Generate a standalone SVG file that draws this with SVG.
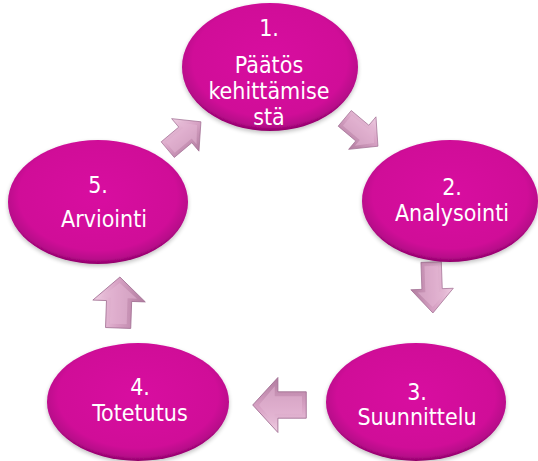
<svg xmlns="http://www.w3.org/2000/svg" width="538" height="461" viewBox="0 0 538 461">
  <defs>
    <radialGradient id="orb" cx="50%" cy="45%" r="55%">
      <stop offset="0" stop-color="#D80EA0"/>
      <stop offset="0.8" stop-color="#D00B98"/>
      <stop offset="0.93" stop-color="#B8088A"/>
      <stop offset="1" stop-color="#8E0468"/>
    </radialGradient>
    <linearGradient id="arrowFill" x1="0" y1="0" x2="0" y2="1">
      <stop offset="0" stop-color="#EFCDE2"/>
      <stop offset="0.45" stop-color="#D8A3C5"/>
      <stop offset="1" stop-color="#B17C9F"/>
    </linearGradient>
    <filter id="soft" x="-10%" y="-10%" width="120%" height="130%">
      <feGaussianBlur in="SourceAlpha" stdDeviation="2"/>
      <feOffset dy="2"/>
      <feComponentTransfer><feFuncA type="linear" slope="0.25"/></feComponentTransfer>
      <feMerge><feMergeNode/><feMergeNode in="SourceGraphic"/></feMerge>
    </filter>
    <!-- block arrow pointing right, centred on the origin -->
    <g id="blockArrow">
      <path d="M -25,-12 L 2,-12 L 2,-25 L 26,0 L 2,25 L 2,12 L -25,12 Z" fill="url(#arrowFill)" stroke="#A06E92" stroke-width="0.8"/>
      <path d="M -21,-8 L 5,-8 L 5,-17 L 20,0 L 5,17 L 5,8 L -21,8 Z" fill="#E4B6D3" opacity="0.55"/>
    </g>
  </defs>
  <style>
    .node ellipse { fill: url(#orb); filter: url(#soft); }
    .node text { fill: #FFFFFF; font-family: "DejaVu Sans Condensed", "DejaVu Sans", sans-serif; font-stretch: condensed; font-size: 23px; text-anchor: middle; }
  </style>

  <rect width="538" height="461" fill="#FFFFFF"/>

  <g id="connectors">
    <use href="#blockArrow" transform="translate(361,132) rotate(40) scale(0.85)"/>
    <use href="#blockArrow" transform="translate(432,287) rotate(88) scale(1.0,0.85)"/>
    <use href="#blockArrow" transform="translate(280,405) rotate(180) scale(1.05,1.1)"/>
    <use href="#blockArrow" transform="translate(119,303) rotate(-88) scale(1.0,1.05)"/>
    <use href="#blockArrow" transform="translate(184,136) rotate(-40) scale(0.85)"/>
  </g>

  <g id="node1" class="node">
    <ellipse cx="270" cy="67" rx="88" ry="64"/>
    <text x="269" y="36">1.</text>
    <text x="269" y="73">Päätös</text>
    <text x="269" y="99">kehittämise</text>
    <text x="269" y="125">stä</text>
  </g>
  <g id="node2" class="node">
    <ellipse cx="450" cy="201" rx="88" ry="61"/>
    <text x="452" y="195">2.</text>
    <text x="452" y="221">Analysointi</text>
  </g>
  <g id="node3" class="node">
    <ellipse cx="416" cy="402" rx="90" ry="59"/>
    <text x="417" y="400">3.</text>
    <text x="417" y="425">Suunnittelu</text>
  </g>
  <g id="node4" class="node">
    <ellipse cx="138" cy="402" rx="91" ry="59"/>
    <text x="140" y="395">4.</text>
    <text x="140" y="421">Totetutus</text>
  </g>
  <g id="node5" class="node">
    <ellipse cx="98" cy="202" rx="90" ry="62"/>
    <text x="98" y="193">5.</text>
    <text x="104" y="227">Arviointi</text>
  </g>
</svg>
